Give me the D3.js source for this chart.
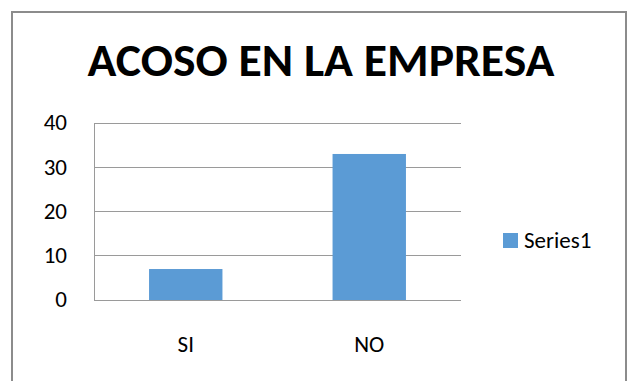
<!DOCTYPE html>
<html lang="es">
<head>
    <meta charset="utf-8">
    <title>Acoso en la empresa</title>
    <script src="https://d3js.org/d3.v7.min.js"></script>
    <style>
        body{
            margin: 0;
            background: #fff;
        }
        svg text{
            font-family: Carlito, Calibri, "Open Sans", sans-serif;
            fill: #000;
        }
    </style>
</head>
<body>
    <div class="chart"></div>

    <script>
        // data
        var categories = ["SI", "NO"];
        var values = [7, 33];
        var seriesName = "Series1";
        var yTicks = [0, 10, 20, 30, 40];
        var title = "ACOSO EN LA EMPRESA";

        var width = 631;
        var height = 381;

        var svg = d3.select("div.chart")
            .append("svg")
            .attr("width", width)
            .attr("height", height);

        // outer frame (bottom edge falls outside the picture)
        svg.append("rect")
            .attr("x", 12)
            .attr("y", 12)
            .attr("width", 614)
            .attr("height", 400)
            .attr("fill", "#fff")
            .attr("stroke", "#8c8c8c")
            .attr("stroke-width", 2);

        svg.append("text")
            .attr("x", 321)
            .attr("y", 76)
            .attr("text-anchor", "middle")
            .style("font-size", "46px")
            .style("font-weight", "bold")
            .attr("textLength", 467)
            .attr("lengthAdjust", "spacingAndGlyphs")
            .text(title);

        var plot = {left: 94, right: 461, top: 123, bottom: 300};

        var x = d3.scaleBand()
            .domain(categories)
            .range([plot.left, plot.right])
            .paddingInner(0.6)
            .paddingOuter(0.3);

        var y = d3.scaleLinear()
            .domain([0, 40])
            .range([plot.bottom, plot.top]);

        // gridlines
        svg.append("g")
            .selectAll("line")
            .data(yTicks)
            .enter()
            .append("line")
            .attr("x1", plot.left)
            .attr("x2", plot.right)
            .attr("y1", function(d){ return y(d); })
            .attr("y2", function(d){ return y(d); })
            .attr("stroke", "#9a9a9a")
            .attr("stroke-width", 1)
            .attr("shape-rendering", "crispEdges");

        // y axis line
        svg.append("line")
            .attr("x1", plot.left)
            .attr("x2", plot.left)
            .attr("y1", plot.top)
            .attr("y2", plot.bottom)
            .attr("stroke", "#9a9a9a")
            .attr("shape-rendering", "crispEdges");

        // y tick labels
        svg.append("g")
            .selectAll("text")
            .data(yTicks)
            .enter()
            .append("text")
            .attr("x", 67)
            .attr("y", function(d){ return y(d); })
            .attr("dy", "0.32em")
            .attr("text-anchor", "end")
            .style("font-size", "23px")
            .text(function(d){ return d; });

        // bars
        svg.append("g")
            .selectAll("rect")
            .data(values)
            .enter()
            .append("rect")
            .attr("x", function(d, i){ return x(categories[i]); })
            .attr("width", x.bandwidth())
            .attr("y", function(d){ return y(d); })
            .attr("height", function(d){ return y(0) - y(d); })
            .attr("fill", "#5b9bd5");

        // x labels
        svg.append("g")
            .selectAll("text")
            .data(categories)
            .enter()
            .append("text")
            .attr("x", function(d){ return x(d) + x.bandwidth() / 2; })
            .attr("y", 352)
            .attr("text-anchor", "middle")
            .style("font-size", "23px")
            .text(function(d){ return d; });

        // legend
        var legend = svg.append("g")
            .attr("transform", "translate(503,233)");
        legend.append("rect")
            .attr("width", 15)
            .attr("height", 15)
            .attr("fill", "#5b9bd5");
        legend.append("text")
            .attr("x", 21)
            .attr("y", 15)
            .style("font-size", "23px")
            .text(seriesName);
    </script>
</body>
</html>
